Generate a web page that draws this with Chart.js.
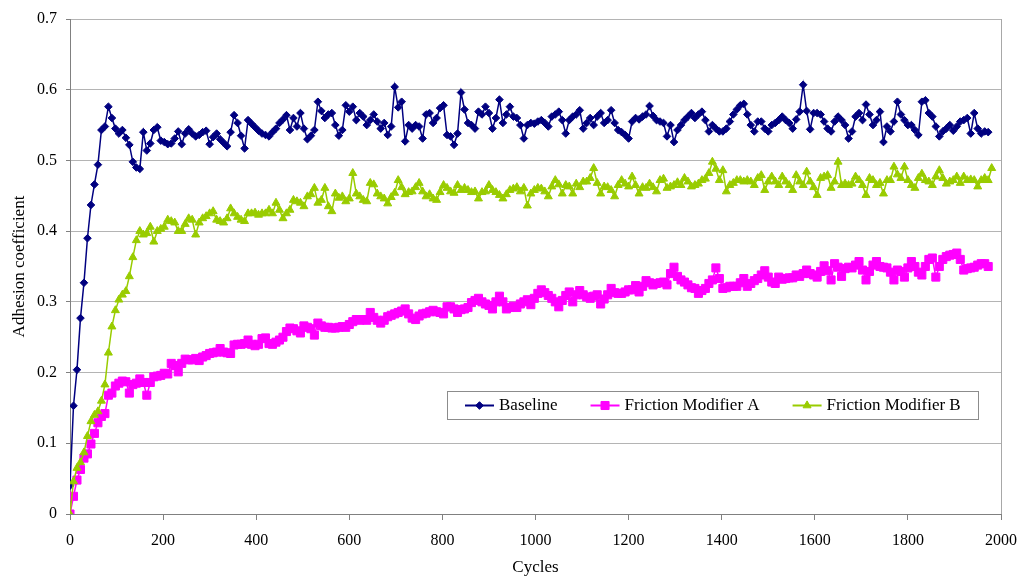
<!DOCTYPE html>
<html>
<head>
<meta charset="utf-8">
<script src="https://cdn.jsdelivr.net/npm/chart.js@4/dist/chart.umd.min.js"></script>
<style>
  html, body { margin: 0; padding: 0; background: #ffffff; }
  #wrap { width: 1018px; height: 576px; position: relative; }
</style>
</head>
<body>
<div id="wrap"><canvas id="c" width="1018" height="576"></canvas></div>
<script>
// ---- Data ----
const CYCLE_STEP = 7.5; // sampling interval of the test, in cycles
const seriesNames = ['Baseline', 'Friction Modifier A', 'Friction Modifier B'];
const xTickValues = [0, 200, 400, 600, 800, 1000, 1200, 1400, 1600, 1800, 2000];
const yTickValues = [0, 0.1, 0.2, 0.3, 0.4, 0.5, 0.6, 0.7];

const baseline = [
  0.04,0.153,0.204,0.277,0.327,0.39,0.437,0.466,0.494,0.543,
  0.548,0.576,0.56,0.545,0.538,0.543,0.532,0.522,0.498,0.49,
  0.488,0.54,0.514,0.524,0.543,0.547,0.528,0.526,0.523,0.524,
  0.531,0.541,0.523,0.538,0.544,0.538,0.534,0.536,0.54,0.542,
  0.523,0.533,0.538,0.53,0.525,0.52,0.54,0.564,0.553,0.535,
  0.517,0.557,0.552,0.547,0.542,0.538,0.536,0.534,0.54,0.545,
  0.553,0.558,0.564,0.543,0.56,0.548,0.567,0.545,0.53,0.535,
  0.543,0.583,0.57,0.56,0.565,0.567,0.55,0.535,0.543,0.578,
  0.569,0.576,0.557,0.567,0.562,0.55,0.557,0.565,0.555,0.545,
  0.553,0.536,0.548,0.604,0.575,0.583,0.527,0.55,0.545,0.55,
  0.548,0.531,0.565,0.567,0.553,0.56,0.574,0.578,0.536,0.534,
  0.522,0.538,0.596,0.572,0.553,0.55,0.545,0.569,0.565,0.576,
  0.567,0.545,0.56,0.586,0.553,0.565,0.576,0.562,0.56,0.55,
  0.531,0.55,0.553,0.552,0.555,0.557,0.553,0.548,0.562,0.565,
  0.569,0.557,0.538,0.557,0.562,0.565,0.571,0.545,0.553,0.56,
  0.55,0.562,0.567,0.553,0.557,0.571,0.553,0.543,0.54,0.536,
  0.531,0.555,0.56,0.558,0.562,0.565,0.577,0.563,0.557,0.555,
  0.553,0.534,0.55,0.526,0.543,0.55,0.557,0.562,0.567,0.56,
  0.565,0.569,0.557,0.541,0.55,0.545,0.541,0.541,0.545,0.555,
  0.565,0.572,0.578,0.58,0.565,0.55,0.541,0.555,0.555,0.545,
  0.541,0.55,0.553,0.557,0.562,0.557,0.553,0.545,0.558,0.569,
  0.607,0.57,0.544,0.567,0.567,0.565,0.555,0.545,0.541,0.555,
  0.562,0.557,0.55,0.531,0.541,0.562,0.567,0.557,0.579,0.565,
  0.55,0.557,0.569,0.526,0.548,0.541,0.555,0.583,0.565,0.557,
  0.55,0.55,0.543,0.536,0.583,0.585,0.567,0.562,0.548,0.534,
  0.541,0.545,0.55,0.542,0.548,0.555,0.557,0.56,0.538,0.567,
  0.545,0.538,0.541,0.54
];

const modifierA = [
  0,0.025,0.048,0.063,0.079,0.085,0.099,0.114,0.129,0.138,
  0.142,0.168,0.171,0.181,0.185,0.188,0.187,0.171,0.183,0.185,
  0.191,0.186,0.168,0.186,0.194,0.195,0.196,0.199,0.198,0.213,
  0.21,0.201,0.213,0.219,0.218,0.218,0.22,0.217,0.222,0.224,
  0.227,0.228,0.229,0.234,0.229,0.228,0.227,0.239,0.24,0.24,
  0.241,0.246,0.24,0.238,0.24,0.248,0.249,0.241,0.24,0.243,
  0.246,0.25,0.258,0.263,0.262,0.259,0.256,0.266,0.264,0.262,
  0.253,0.27,0.266,0.264,0.264,0.263,0.263,0.264,0.265,0.264,
  0.268,0.272,0.275,0.274,0.275,0.274,0.285,0.278,0.274,0.27,
  0.274,0.279,0.281,0.283,0.285,0.287,0.29,0.283,0.277,0.275,
  0.28,0.283,0.284,0.286,0.288,0.286,0.285,0.283,0.293,0.293,
  0.29,0.285,0.289,0.29,0.292,0.299,0.302,0.305,0.3,0.297,
  0.295,0.29,0.3,0.308,0.3,0.29,0.292,0.294,0.292,0.297,
  0.3,0.303,0.296,0.305,0.312,0.317,0.313,0.309,0.305,0.3,
  0.293,0.302,0.309,0.314,0.3,0.31,0.316,0.31,0.307,0.305,
  0.308,0.31,0.297,0.304,0.31,0.319,0.313,0.312,0.312,0.314,
  0.317,0.317,0.323,0.314,0.322,0.33,0.327,0.324,0.326,0.327,
  0.328,0.324,0.34,0.349,0.336,0.331,0.328,0.324,0.32,0.319,
  0.312,0.316,0.319,0.326,0.331,0.348,0.333,0.319,0.32,0.322,
  0.322,0.322,0.327,0.333,0.322,0.326,0.33,0.333,0.338,0.344,
  0.335,0.328,0.326,0.335,0.332,0.333,0.334,0.334,0.338,0.336,
  0.34,0.345,0.34,0.338,0.335,0.343,0.351,0.344,0.331,0.354,
  0.349,0.336,0.347,0.349,0.348,0.352,0.357,0.345,0.331,0.343,
  0.352,0.357,0.35,0.349,0.348,0.342,0.331,0.345,0.343,0.335,
  0.348,0.357,0.35,0.342,0.338,0.35,0.36,0.362,0.335,0.35,
  0.36,0.364,0.366,0.367,0.369,0.36,0.345,0.347,0.348,0.349,
  0.352,0.354,0.354,0.35
];

const modifierB = [
  0,0.046,0.065,0.073,0.087,0.11,0.131,0.14,0.145,0.16,
  0.183,0.228,0.265,0.288,0.303,0.31,0.315,0.336,0.363,0.387,
  0.40,0.395,0.397,0.406,0.385,0.40,0.403,0.406,0.416,0.414,
  0.412,0.40,0.40,0.41,0.418,0.416,0.395,0.412,0.418,0.421,
  0.425,0.428,0.416,0.414,0.412,0.418,0.432,0.425,0.42,0.416,
  0.414,0.425,0.425,0.426,0.423,0.425,0.425,0.43,0.425,0.44,
  0.43,0.418,0.425,0.43,0.444,0.442,0.44,0.435,0.449,0.452,
  0.461,0.44,0.444,0.461,0.435,0.428,0.453,0.447,0.449,0.442,
  0.446,0.482,0.453,0.449,0.444,0.442,0.468,0.466,0.453,0.449,
  0.446,0.439,0.448,0.454,0.472,0.462,0.452,0.455,0.456,0.462,
  0.468,0.456,0.449,0.452,0.446,0.444,0.455,0.465,0.461,0.456,
  0.454,0.465,0.458,0.461,0.458,0.455,0.456,0.446,0.455,0.456,
  0.465,0.458,0.455,0.451,0.446,0.452,0.458,0.46,0.462,0.456,
  0.461,0.436,0.453,0.458,0.461,0.46,0.456,0.449,0.463,0.472,
  0.466,0.453,0.465,0.463,0.453,0.467,0.462,0.47,0.47,0.475,
  0.489,0.468,0.453,0.463,0.462,0.458,0.449,0.465,0.472,0.467,
  0.463,0.477,0.465,0.453,0.462,0.461,0.467,0.462,0.456,0.472,
  0.474,0.461,0.463,0.465,0.469,0.465,0.475,0.47,0.463,0.465,
  0.467,0.472,0.474,0.482,0.498,0.488,0.472,0.486,0.456,0.465,
  0.468,0.472,0.472,0.47,0.472,0.47,0.465,0.475,0.479,0.458,
  0.47,0.477,0.47,0.465,0.477,0.47,0.465,0.458,0.479,0.47,
  0.465,0.484,0.47,0.462,0.451,0.475,0.477,0.479,0.461,0.47,
  0.498,0.465,0.467,0.465,0.467,0.477,0.472,0.465,0.451,0.475,
  0.472,0.465,0.468,0.453,0.472,0.472,0.491,0.48,0.475,0.491,
  0.472,0.465,0.461,0.475,0.481,0.472,0.47,0.465,0.477,0.486,
  0.475,0.467,0.47,0.472,0.477,0.468,0.477,0.472,0.473,0.472,
  0.463,0.472,0.475,0.472,0.489
];

// cycle count of each sample
const cycles = modifierB.map((_, i) => i * CYCLE_STEP);
const toPoints = (vals) => vals.map((v, i) => ({ x: cycles[i], y: v }));

// ---- Styles ----
const FONT = "'Liberation Serif', 'Times New Roman', serif";
Chart.defaults.font.family = FONT;
Chart.defaults.color = '#000000';

function drawMarker(ctx, style, r, x, y, color) {
  ctx.save();
  ctx.fillStyle = color;
  ctx.strokeStyle = color;
  ctx.lineWidth = 1;
  ctx.beginPath();
  if (style === 'rectRot') {
    ctx.moveTo(x, y - r); ctx.lineTo(x + r, y); ctx.lineTo(x, y + r); ctx.lineTo(x - r, y);
  } else if (style === 'rect') {
    const s = r * Math.SQRT1_2;
    ctx.rect(x - s, y - s, 2 * s, 2 * s);
  } else {
    ctx.moveTo(x, y - r);
    ctx.lineTo(x + r * Math.sin(Math.PI / 3), y + r / 2);
    ctx.lineTo(x - r * Math.sin(Math.PI / 3), y + r / 2);
  }
  ctx.closePath();
  ctx.fill();
  ctx.stroke();
  ctx.restore();
}

const boxLegend = {
  id: 'boxLegend',
  afterDraw(chart) {
    const ctx = chart.ctx;
    const area = chart.chartArea;
    const bx = Math.round(area.left + 377) + 0.5;
    const by = Math.round(area.top + 372) + 0.5;
    const bw = 531, bh = 28;
    ctx.save();
    ctx.fillStyle = '#ffffff';
    ctx.fillRect(bx, by, bw, bh);
    ctx.strokeStyle = '#8c8c8c';
    ctx.lineWidth = 1;
    ctx.strokeRect(bx, by, bw, bh);
    ctx.font = '17px ' + FONT;
    ctx.textBaseline = 'middle';
    ctx.textAlign = 'left';
    const cy = by + bh / 2;
    let x = bx + 17.5;
    chart.data.datasets.forEach((d) => {
      ctx.strokeStyle = d.borderColor;
      ctx.lineWidth = 2;
      ctx.beginPath();
      ctx.moveTo(x, cy); ctx.lineTo(x + 29, cy);
      ctx.stroke();
      drawMarker(ctx, d.pointStyle, d.pointRadius, x + 14.5, cy, d.borderColor);
      ctx.fillStyle = '#000000';
      ctx.fillText(d.label, x + 34, cy + 0.5);
      x += 34 + ctx.measureText(d.label).width + 33;
    });
    ctx.restore();
  }
};

const chart = new Chart(document.getElementById('c'), {
  type: 'line',
  data: {
    datasets: [
      {
        label: seriesNames[0], data: toPoints(baseline),
        borderColor: '#000080', backgroundColor: '#000080',
        pointBackgroundColor: '#000080', pointBorderColor: '#000080',
        pointStyle: 'rectRot', pointRadius: 3.8, pointBorderWidth: 1,
        borderWidth: 1.5, order: 2
      },
      {
        label: seriesNames[1], data: toPoints(modifierA),
        borderColor: '#ff00ff', backgroundColor: '#ff00ff',
        pointBackgroundColor: '#ff00ff', pointBorderColor: '#ff00ff',
        pointStyle: 'rect', pointRadius: 5.7, pointBorderWidth: 1,
        borderWidth: 1.5, order: 1
      },
      {
        label: seriesNames[2], data: toPoints(modifierB),
        borderColor: '#99cc00', backgroundColor: '#99cc00',
        pointBackgroundColor: '#99cc00', pointBorderColor: '#99cc00',
        pointStyle: 'triangle', pointRadius: 4.6, pointBorderWidth: 1,
        borderWidth: 1.5, order: 0
      }
    ]
  },
  options: {
    responsive: false,
    animation: false,
    layout: { padding: { top: 19, right: 17, left: 0, bottom: 0 } },
    plugins: { legend: { display: false }, tooltip: { enabled: false } },
    elements: { line: { tension: 0 } },
    scales: {
      x: {
        type: 'linear', min: 0, max: 2000,
        afterBuildTicks: (s) => { s.ticks = xTickValues.map(v => ({ value: v })); },
        ticks: {
          callback: (v) => String(v), padding: 11, color: '#000000',
          font: { size: 16 }, maxRotation: 0, autoSkip: false
        },
        grid: {
          color: (c) => (c.tick && c.tick.value === 2000) ? '#a8a8a8' : 'rgba(0,0,0,0)',
          tickColor: '#808080', tickLength: 6, drawOnChartArea: true
        },
        border: { color: '#808080', width: 1 },
        title: {
          display: true, text: 'Cycles', color: '#000000',
          font: { size: 17 }, padding: { top: 0, bottom: -1.5 }
        },
        afterFit: (s) => { s.height = 62; s.paddingLeft = 0; s.paddingRight = 0; }
      },
      y: {
        min: 0, max: 0.7,
        afterBuildTicks: (s) => { s.ticks = yTickValues.map(v => ({ value: v })); },
        ticks: {
          callback: (v) => String(Math.round(v * 10) / 10), padding: 9,
          color: '#000000', font: { size: 16 }
        },
        grid: { color: '#b4b4b4', tickColor: '#808080', tickLength: 4 },
        border: { color: '#808080', width: 1 },
        title: {
          display: true, text: 'Adhesion coefficient', color: '#000000',
          font: { size: 17 }, padding: { top: 9, bottom: 0 }
        },
        afterFit: (s) => { s.width = 70; s.paddingTop = 0; s.paddingBottom = 0; }
      }
    }
  },
  plugins: [boxLegend]
});
</script>
</body>
</html>
